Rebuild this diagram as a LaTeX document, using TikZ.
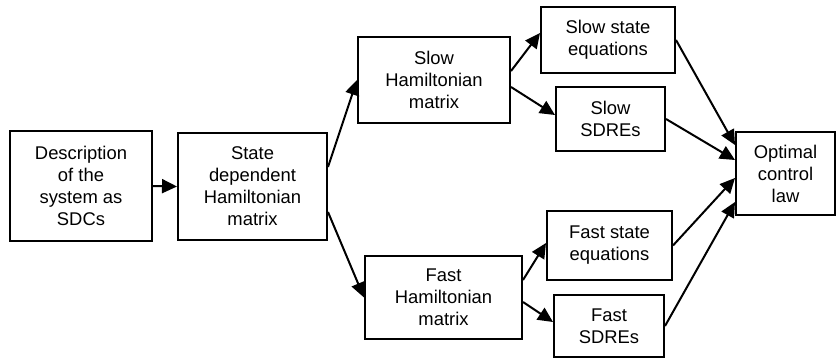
\documentclass[tikz,border=0pt]{standalone}
\usepackage{fontspec}
\setmainfont{Liberation Sans}
\usetikzlibrary{arrows.meta}

\begin{document}
\begin{tikzpicture}[x=1pt,y=-1pt,line width=2pt,
  blk/.style={draw,align=center,inner sep=0pt,font=\fontsize{18.4}{22}\selectfont},
  arr/.style={-{Triangle[length=15pt,width=14pt]}}]
\useasboundingbox (0,0) rectangle (837,358);
% boxes
\node[blk,minimum width=142pt,minimum height=110pt] (desc) at (81,186) {Description\\of the\\system as\\SDCs};
\node[blk,minimum width=149pt,minimum height=107pt] (sdh) at (252.5,186.5) {State\\dependent\\Hamiltonian\\matrix};
\node[blk,minimum width=152pt,minimum height=86pt] (slowham) at (434,80) {Slow\\Hamiltonian\\matrix};
\node[blk,minimum width=157pt,minimum height=83pt] (fastham) at (443.5,297.5) {Fast\\Hamiltonian\\matrix};
\node[blk,minimum width=134pt,minimum height=66pt] (slowstate) at (608,40) {Slow state\\equations};
\node[blk,minimum width=109pt,minimum height=64pt] (slowsdre) at (610.5,119) {Slow\\SDREs};
\node[blk,minimum width=125pt,minimum height=69pt] (faststate) at (609.5,245.5) {Fast state\\equations};
\node[blk,minimum width=110pt,minimum height=62pt] (fastsdre) at (609,326) {Fast\\SDREs};
\node[blk,minimum width=99pt,minimum height=83pt] (optimal) at (785.5,173.5) {Optimal\\control\\law};
% arrows
\draw[arr] (desc.east) -- (sdh.west);
\draw[arr] ([yshift=19.5pt]sdh.east) -- (slowham.west);
\draw[arr] ([yshift=-25.5pt]sdh.east) -- (fastham.west);
\draw[arr] ([yshift=9pt]slowham.east) -- ([yshift=7pt]slowstate.west);
\draw[arr] ([yshift=-7pt]slowham.east) -- ([yshift=4pt]slowsdre.west);
\draw[arr] ([yshift=17.5pt]fastham.east) -- ([yshift=2.5pt]faststate.west);
\draw[arr] ([yshift=-4.5pt]fastham.east) -- ([yshift=4pt]fastsdre.west);
\draw[arr] (slowstate.east) -- ([yshift=28.5pt]optimal.west);
\draw[arr] (slowsdre.east) -- ([yshift=13.5pt]optimal.west);
\draw[arr] (faststate.east) -- ([yshift=-4.5pt]optimal.west);
\draw[arr] (fastsdre.east) -- ([yshift=-28.5pt]optimal.west);
\end{tikzpicture}
\end{document}
